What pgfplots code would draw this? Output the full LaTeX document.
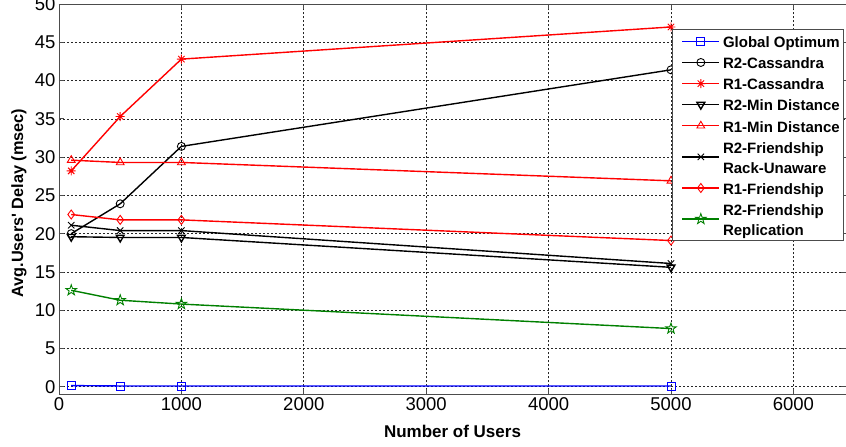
\documentclass[border=0pt]{standalone}
\usepackage{fontspec}
\setmainfont{Liberation Sans}
\usepackage{pgfplots}
\pgfplotsset{compat=1.18}
\usetikzlibrary{plotmarks}
\definecolor{mgreen}{rgb}{0,0.5,0}
\pgfdeclareplotmark{pentagram}{%
  \pgfpathmoveto{\pgfpointpolar{90}{\pgfplotmarksize}}%
  \pgfpathlineto{\pgfpointpolar{126}{0.40\pgfplotmarksize}}%
  \pgfpathlineto{\pgfpointpolar{162}{\pgfplotmarksize}}%
  \pgfpathlineto{\pgfpointpolar{198}{0.40\pgfplotmarksize}}%
  \pgfpathlineto{\pgfpointpolar{234}{\pgfplotmarksize}}%
  \pgfpathlineto{\pgfpointpolar{270}{0.40\pgfplotmarksize}}%
  \pgfpathlineto{\pgfpointpolar{306}{\pgfplotmarksize}}%
  \pgfpathlineto{\pgfpointpolar{342}{0.40\pgfplotmarksize}}%
  \pgfpathlineto{\pgfpointpolar{18}{\pgfplotmarksize}}%
  \pgfpathlineto{\pgfpointpolar{54}{0.40\pgfplotmarksize}}%
  \pgfpathclose
  \pgfusepathqstroke
}
\pgfdeclareplotmark{ast8}{%
  \pgfpathmoveto{\pgfpointpolar{0}{\pgfplotmarksize}}\pgfpathlineto{\pgfpointpolar{180}{\pgfplotmarksize}}%
  \pgfpathmoveto{\pgfpointpolar{90}{\pgfplotmarksize}}\pgfpathlineto{\pgfpointpolar{270}{\pgfplotmarksize}}%
  \pgfpathmoveto{\pgfpointpolar{45}{\pgfplotmarksize}}\pgfpathlineto{\pgfpointpolar{225}{\pgfplotmarksize}}%
  \pgfpathmoveto{\pgfpointpolar{135}{\pgfplotmarksize}}\pgfpathlineto{\pgfpointpolar{315}{\pgfplotmarksize}}%
  \pgfusepathqstroke
}
\begin{document}
\begin{tikzpicture}
\begin{axis}[name=ax, scale only axis, width=787pt, height=390.4pt,
  xmin=0, xmax=6430, ymin=-1, ymax=50,
  xtick={0,1000,...,6000}, ytick={0,5,...,50},
  grid=major,
  major grid style={black!85, line width=0.6pt, dash pattern=on 2pt off 2pt},
  axis line style={black!70, line width=0.9pt},
  tick align=inside, major tick length=5pt,
  tick style={black!70, line width=0.8pt},
  ticklabel style={font=\fontsize{18.5}{20}\selectfont},
  /pgf/number format/assume math mode=true,
  scaled x ticks=false,
  x tick label style={/pgf/number format/1000 sep={}},
  xlabel={Number of Users},
  ylabel={Avg.Users\textquotesingle\ Delay (msec)},
  xlabel style={font=\fontsize{17}{20}\selectfont\bfseries, at={(axis description cs:0.5,-0.094)}, anchor=center},
  ylabel style={font=\fontsize{16.3}{20}\selectfont\bfseries, at={(axis description cs:-0.0508,0.49)}, anchor=center},
  legend style={at={(axis description cs:0.7792,0.9354)}, anchor=north west,
    draw=black!70, line width=0.8pt, fill=white,
    font=\fontsize{15}{20}\selectfont\bfseries,
    inner xsep=2pt, inner ysep=2pt, column sep=0pt, row sep=1.6pt,
    cells={anchor=west, align=left, inner xsep=0pt, inner ysep=0.5pt}},
  legend cell align=left,
  legend image code/.code={\path (-7pt,0pt) (38pt,0pt);\draw[mark repeat=2,mark phase=2] plot coordinates {(0pt,0pt) (18.5pt,0pt) (37pt,0pt)};},
  every axis plot/.append style={line width=1.4pt, mark options={solid, line width=0.9pt}},
]
\addplot[blue, mark=square, mark size=4pt] coordinates {(100,0.15) (500,0.1) (1000,0.1) (5000,0.1)};
\addlegendentry{\strut Global Optimum}
\addplot[black, mark=o, mark size=4pt] coordinates {(100,20.0) (500,23.9) (1000,31.4) (5000,41.4)};
\addlegendentry{\strut R2-Cassandra}
\addplot[red, mark=ast8, mark size=4.5pt] coordinates {(100,28.2) (500,35.3) (1000,42.8) (5000,47.0)};
\addlegendentry{\strut R1-Cassandra}
\addplot[black, mark=triangle, mark size=4.5pt, mark options={rotate=180}] coordinates {(100,19.6) (500,19.5) (1000,19.5) (5000,15.6)};
\addlegendentry{\strut R2-Min Distance}
\addplot[red, mark=triangle, mark size=4.5pt] coordinates {(100,29.6) (500,29.3) (1000,29.3) (5000,26.9)};
\addlegendentry{\strut R1-Min Distance}
\addplot[black, mark=x, mark size=4.5pt] coordinates {(100,21.1) (500,20.4) (1000,20.4) (5000,16.1)};
\addlegendentry{\strut R2-Friendship\\\strut Rack-Unaware}
\addplot[red, mark=diamond, mark size=4.5pt] coordinates {(100,22.5) (500,21.8) (1000,21.8) (5000,19.1)};
\addlegendentry{\strut R1-Friendship}
\addplot[mgreen, mark=pentagram, mark size=5.5pt] coordinates {(100,12.6) (500,11.3) (1000,10.8) (5000,7.6)};
\addlegendentry{\strut R2-Friendship\\\strut Replication}
\end{axis}
\pgfresetboundingbox
\path[use as bounding box] ([shift={(-59pt,-52.6pt)}]ax.south west) rectangle ([shift={(0pt,4pt)}]ax.north east);
\end{tikzpicture}
\end{document}
